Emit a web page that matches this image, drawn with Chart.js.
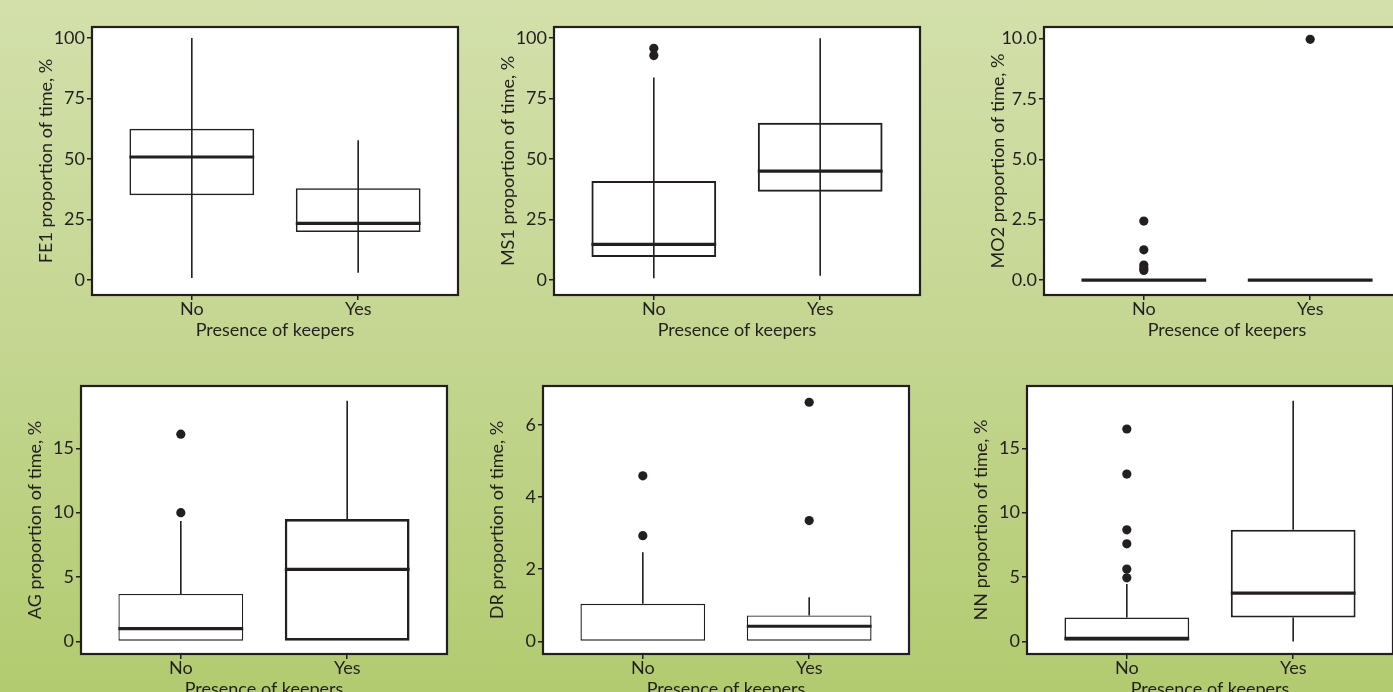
<!DOCTYPE html>
<html>
<head>
<meta charset="utf-8">
<script src="https://cdn.jsdelivr.net/npm/chart.js@4.4.1/dist/chart.umd.min.js"></script>
<style>
    html, body { margin: 0; padding: 0; }
    body {
        width: 1393px;
        height: 692px;
        overflow: hidden;
        position: relative;
        background: linear-gradient(to bottom, #d3e0ab 0%, #c4d691 50%, #b2cb70 100%);
        font-family: Lato, sans-serif;
    }
</style>
</head>
<body>
<script>
const categories = ['No', 'Yes'];
const xLabel = 'Presence of keepers';

// each box: [lower whisker, Q1, median, Q3, upper whisker], for No / Yes
const fe1Stats = [[0.8, 35.0, 50.8, 62.5, 100], [3.0, 19.8, 23.4, 37.9, 57.7]];
const fe1Outliers = [[], []];
const fe1Ticks = [0, 25, 50, 75, 100];
const fe1Range = [-6.2, 104.5];

const ms1Stats = [[0.7, 9.5, 14.7, 40.9, 83.6], [1.8, 36.5, 45.0, 64.9, 99.9]];
const ms1Outliers = [[92.7, 95.7], []];
const ms1Ticks = [0, 25, 50, 75, 100];
const ms1Range = [-6.2, 104.5];

const mo2Stats = [[0, 0, 0, 0, 0], [0, 0, 0, 0, 0]];
const mo2Outliers = [[0.4, 0.5, 0.62, 1.25, 2.44], [9.97]];
const mo2Ticks = [0, 2.5, 5, 7.5, 10];
const mo2Range = [-0.62, 10.48];

const agStats = [[0, 0, 0.99, 3.68, 9.36], [0, 0, 5.6, 9.5, 18.7]];
const agOutliers = [[10.0, 16.1], []];
const agTicks = [0, 5, 10, 15];
const agRange = [-0.98, 19.84];

// median of "No" sits on the box floor and is not drawn in the original
const drStats = [[0, 0, null, 1.04, 2.47], [0, 0, 0.42, 0.72, 1.22]];
const drOutliers = [[2.93, 4.59], [3.35, 6.63]];
const drTicks = [0, 2, 4, 6];
const drRange = [-0.35, 7.08];

const nnStats = [[0, 0, 0.23, 1.86, 4.45], [0, 1.86, 3.75, 8.67, 18.7]];
const nnOutliers = [[4.94, 5.62, 7.58, 8.67, 13.0, 16.5], []];
const nnTicks = [0, 5, 10, 15];
const nnRange = [-0.98, 19.84];

const TEXT = '#231f20';
const FONT = { family: 'Lato', size: 18 };
const BOX_W = 0.75;
const FRAME_W = 366, FRAME_H = 268;
const PAD_L = 90, PAD_T = 14, PAD_R = 8, PAD_B = 52;

const panels = [
    { name: 'FE1', stats: fe1Stats, outliers: fe1Outliers, ticks: fe1Ticks, range: fe1Range, dec: 0, left: 92, top: 27, through: true, box: [1.6, 1.6] },
    { name: 'MS1', stats: ms1Stats, outliers: ms1Outliers, ticks: ms1Ticks, range: ms1Range, dec: 0, left: 554, top: 27, through: true, box: [2, 2] },
    { name: 'MO2', stats: mo2Stats, outliers: mo2Outliers, ticks: mo2Ticks, range: mo2Range, dec: 1, left: 1044, top: 27, through: false, box: [2, 2] },
    { name: 'AG', stats: agStats, outliers: agOutliers, ticks: agTicks, range: agRange, dec: 0, left: 81, top: 386, through: false, box: [1.3, 2.6] },
    { name: 'DR', stats: drStats, outliers: drOutliers, ticks: drTicks, range: drRange, dec: 0, left: 543, top: 386, through: false, box: [1.4, 1.4] },
    { name: 'NN', stats: nnStats, outliers: nnOutliers, ticks: nnTicks, range: nnRange, dec: 0, left: 1027, top: 386, through: false, box: [1.6, 2] }
];

// white plot area and black frame around it
const framePlugin = {
    id: 'frame',
    beforeDraw(chart) {
        const { ctx, chartArea: a } = chart;
        ctx.save();
        ctx.fillStyle = '#ffffff';
        ctx.fillRect(a.left, a.top, a.width, a.height);
        ctx.restore();
    },
    afterDraw(chart) {
        const { ctx, chartArea: a } = chart;
        ctx.save();
        ctx.strokeStyle = TEXT;
        ctx.lineWidth = 2.2;
        ctx.strokeRect(a.left, a.top, a.width, a.height);
        ctx.restore();
    }
};

function buildPanel(p) {
    const canvas = document.createElement('canvas');
    const W = PAD_L + FRAME_W + PAD_R;
    const H = PAD_T + FRAME_H + PAD_B;
    canvas.width = W;
    canvas.height = H;
    canvas.style.cssText = 'position:absolute;left:' + (p.left - PAD_L) + 'px;top:' + (p.top - PAD_T) + 'px;width:' + W + 'px;height:' + H + 'px;';
    document.body.appendChild(canvas);

    let boxes = p.stats.map((s, i) => ({ x: i + 1, y: [s[1], s[3]] }));
    let whiskers = [];
    let medians = [];
    p.stats.forEach((s, i) => {
        if (i > 0) medians.push({ x: i + 0.5, y: null });
        medians.push({ x: i + 1 - BOX_W / 2, y: s[2] }, { x: i + 1 + BOX_W / 2, y: s[2] });
        // whiskers run through the box in the top panels, outside it elsewhere
        const parts = p.through ? [[s[0], s[4]]] : [[s[0], s[1]], [s[3], s[4]]];
        parts.forEach(([a, b]) => {
            if (a === b) return;
            if (whiskers.length) whiskers.push({ x: i + 0.5, y: null });
            whiskers.push({ x: i + 1, y: a }, { x: i + 1, y: b });
        });
    });
    let points = [];
    p.outliers.forEach((list, i) => list.forEach(v => points.push({ x: i + 1, y: v })));

    new Chart(canvas.getContext('2d'), {
        type: 'bar',
        data: {
            datasets: [
                {
                    type: 'scatter', data: points, order: 0,
                    pointRadius: 4.6, pointBackgroundColor: TEXT, pointBorderWidth: 0
                },
                {
                    type: 'line', data: medians, order: 1,
                    borderColor: TEXT, borderWidth: 3.2, pointRadius: 0, spanGaps: false, fill: false
                },
                {
                    type: 'line', data: whiskers, order: 1,
                    borderColor: TEXT, borderWidth: 1.6, pointRadius: 0, spanGaps: false, fill: false
                },
                {
                    type: 'bar', data: boxes, order: 2,
                    backgroundColor: p.through ? 'rgba(255,255,255,0)' : '#ffffff',
                    borderColor: TEXT, borderWidth: p.box, borderSkipped: false,
                    barPercentage: BOX_W, categoryPercentage: 1
                }
            ]
        },
        options: {
            responsive: false,
            animation: false,
            events: [],
            layout: { padding: { top: PAD_T, right: PAD_R, left: 0, bottom: 0 } },
            plugins: { legend: { display: false }, tooltip: { enabled: false } },
            scales: {
                x: {
                    type: 'linear', min: 0.4, max: 2.6, offset: false,
                    afterBuildTicks: s => { s.ticks = categories.map((c, i) => ({ value: i + 1 })); },
                    afterFit: s => { s.height = PAD_B; },
                    ticks: { color: TEXT, font: FONT, padding: -2, autoSkip: false, maxRotation: 0,
                        callback: (v, i) => categories[i] },
                    grid: { drawOnChartArea: false, drawTicks: true, tickLength: 5, color: TEXT, lineWidth: 1.5, offset: false },
                    border: { display: false },
                    title: { display: true, text: xLabel, color: TEXT, font: FONT, padding: { top: 0, bottom: 6 } }
                },
                y: {
                    min: p.range[0], max: p.range[1],
                    afterBuildTicks: s => { s.ticks = p.ticks.map(v => ({ value: v })); },
                    afterFit: s => { s.width = PAD_L; },
                    ticks: { color: TEXT, font: FONT, padding: 2, callback: v => Number(v).toFixed(p.dec) },
                    grid: { drawOnChartArea: false, drawTicks: true, tickLength: 5, color: TEXT, lineWidth: 1.5 },
                    border: { display: false },
                    title: { display: true, text: p.name + ' proportion of time, %', color: TEXT, font: FONT, padding: { top: 33, bottom: 0 } }
                }
            }
        },
        plugins: [framePlugin]
    });
}

panels.forEach(buildPanel);
</script>
</body>
</html>
